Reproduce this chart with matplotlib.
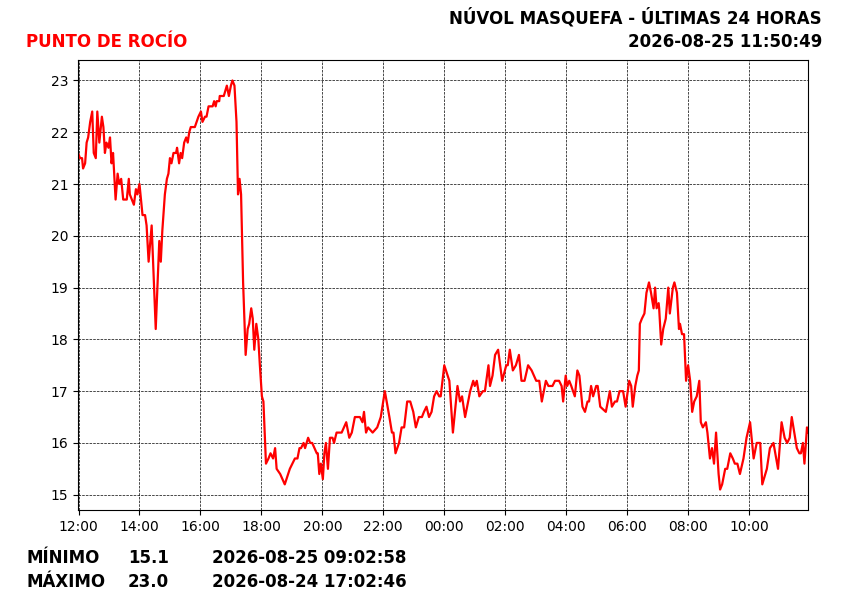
import datetime as dt
import matplotlib
matplotlib.use("Agg")
import matplotlib.pyplot as plt
import matplotlib.dates as mdates

# lecturas punto de rocio (hora, valor) - ultimas 24h
horas = [
    "11:59", "12:03", "12:07", "12:09", "12:13", "12:16", "12:19", "12:23", "12:27", "12:30",
    "12:34", "12:37", "12:41", "12:46", "12:49", "12:52", "12:55", "12:59", "13:02", "13:05",
    "13:08", "13:13", "13:17", "13:20", "13:24", "13:28", "13:35", "13:39", "13:41", "13:45",
    "13:49", "13:53", "13:56", "14:00", "14:03", "14:06", "14:11", "14:14", "14:18", "14:24",
    "14:32", "14:39", "14:42", "14:45", "14:50", "14:54", "14:57", "15:00", "15:03", "15:07",
    "15:12", "15:14", "15:18", "15:21", "15:24", "15:28", "15:32", "15:35", "15:38", "15:41",
    "15:49", "15:56", "16:01", "16:04", "16:09", "16:12", "16:16", "16:24", "16:27", "16:30",
    "16:32", "16:37", "16:38", "16:46", "16:52", "16:56", "17:00", "17:03", "17:07", "17:11",
    "17:14", "17:17", "17:20", "17:24", "17:29", "17:33", "17:36", "17:40", "17:43", "17:46",
    "17:50", "17:54", "17:57", "18:01", "18:04", "18:09", "18:14", "18:18", "18:23", "18:27",
    "18:30", "18:37", "18:46", "18:56", "19:06", "19:11", "19:15", "19:18", "19:23", "19:26",
    "19:32", "19:36", "19:40", "19:49", "19:51", "19:54", "19:57", "20:01", "20:04", "20:07",
    "20:11", "20:15", "20:20", "20:23", "20:28", "20:38", "20:47", "20:53", "20:58", "21:04",
    "21:14", "21:19", "21:22", "21:26", "21:30", "21:39", "21:48", "21:55", "22:03", "22:12",
    "22:17", "22:20", "22:24", "22:31", "22:36", "22:41", "22:47", "22:53", "22:59", "23:04",
    "23:10", "23:16", "23:20", "23:25", "23:30", "23:35", "23:40", "23:45", "23:50", "23:53",
    "00:00", "00:10", "00:17", "00:26", "00:31", "00:35", "00:41", "00:51", "00:57", "01:00",
    "01:04", "01:09", "01:16", "01:20", "01:27", "01:30", "01:35", "01:40", "01:46", "01:54",
    "02:02", "02:05", "02:09", "02:15", "02:21", "02:27", "02:32", "02:38", "02:45", "02:52",
    "03:01", "03:07", "03:12", "03:20", "03:25", "03:33", "03:38", "03:46", "03:51", "03:54",
    "03:59", "04:02", "04:06", "04:10", "04:17", "04:22", "04:26", "04:32", "04:37", "04:42",
    "04:45", "04:49", "04:53", "04:59", "05:02", "05:07", "05:18", "05:26", "05:30", "05:36",
    "05:40", "05:45", "05:52", "05:57", "06:04", "06:08", "06:11", "06:16", "06:20", "06:23",
    "06:25", "06:29", "06:34", "06:38", "06:43", "06:47", "06:52", "06:55", "06:58", "07:02",
    "07:03", "07:07", "07:11", "07:16", "07:21", "07:24", "07:30", "07:33", "07:38", "07:42",
    "07:44", "07:48", "07:52", "07:56", "08:00", "08:04", "08:08", "08:12", "08:17", "08:22",
    "08:25", "08:29", "08:35", "08:38", "08:43", "08:47", "08:51", "08:55", "09:00", "09:03",
    "09:07", "09:13", "09:17", "09:23", "09:28", "09:32", "09:37", "09:42", "09:49", "09:55",
    "10:02", "10:09", "10:15", "10:22", "10:26", "10:35", "10:41", "10:48", "10:57", "11:04",
    "11:10", "11:15", "11:20", "11:24", "11:34", "11:39", "11:42", "11:46", "11:49", "11:54",
    "11:56",
]
valores = [
    21.6, 21.5, 21.5, 21.3, 21.4, 21.8, 21.9, 22.2, 22.4, 21.6,
    21.5, 22.4, 21.8, 22.3, 22.1, 21.6, 21.8, 21.7, 21.9, 21.4,
    21.6, 20.7, 21.2, 21.0, 21.1, 20.7, 20.7, 21.1, 20.8, 20.7,
    20.6, 20.9, 20.8, 21.0, 20.7, 20.4, 20.4, 20.2, 19.5, 20.2,
    18.2, 19.9, 19.5, 20.1, 20.8, 21.1, 21.2, 21.5, 21.4, 21.6,
    21.6, 21.7, 21.4, 21.6, 21.5, 21.8, 21.9, 21.8, 22.0, 22.1,
    22.1, 22.3, 22.4, 22.2, 22.3, 22.3, 22.5, 22.5, 22.6, 22.5,
    22.6, 22.6, 22.7, 22.7, 22.9, 22.7, 22.9, 23.0, 22.9, 22.2,
    20.8, 21.1, 20.8, 19.1, 17.7, 18.2, 18.3, 18.6, 18.4, 17.8,
    18.3, 18.0, 17.5, 16.9, 16.8, 15.6, 15.7, 15.8, 15.7, 15.9,
    15.5, 15.4, 15.2, 15.5, 15.7, 15.7, 15.9, 15.9, 16.0, 15.9,
    16.1, 16.0, 16.0, 15.8, 15.8, 15.4, 15.6, 15.3, 15.8, 16.0,
    15.5, 16.1, 16.1, 16.0, 16.2, 16.2, 16.4, 16.1, 16.2, 16.5,
    16.5, 16.4, 16.6, 16.2, 16.3, 16.2, 16.3, 16.5, 17.0, 16.5,
    16.2, 16.2, 15.8, 16.0, 16.3, 16.3, 16.8, 16.8, 16.6, 16.3,
    16.5, 16.5, 16.6, 16.7, 16.5, 16.6, 16.9, 17.0, 16.9, 16.9,
    17.5, 17.2, 16.2, 17.1, 16.8, 16.9, 16.5, 17.0, 17.2, 17.1,
    17.2, 16.9, 17.0, 17.0, 17.5, 17.1, 17.3, 17.7, 17.8, 17.2,
    17.5, 17.5, 17.8, 17.4, 17.5, 17.7, 17.2, 17.2, 17.5, 17.4,
    17.2, 17.2, 16.8, 17.2, 17.1, 17.1, 17.2, 17.2, 17.1, 16.8,
    17.3, 17.1, 17.2, 17.1, 16.9, 17.4, 17.3, 16.7, 16.6, 16.8,
    16.8, 17.1, 16.9, 17.1, 17.1, 16.7, 16.6, 17.0, 16.7, 16.8,
    16.8, 17.0, 17.0, 16.7, 17.2, 17.1, 16.7, 17.1, 17.3, 17.4,
    18.3, 18.4, 18.5, 18.9, 19.1, 18.9, 18.6, 19.0, 18.6, 18.7,
    18.6, 17.9, 18.2, 18.4, 19.0, 18.5, 19.0, 19.1, 18.9, 18.2,
    18.3, 18.1, 18.1, 17.2, 17.5, 17.2, 16.6, 16.8, 16.9, 17.2,
    16.4, 16.3, 16.4, 16.2, 15.7, 15.9, 15.6, 16.2, 15.4, 15.1,
    15.2, 15.5, 15.5, 15.8, 15.7, 15.6, 15.6, 15.4, 15.7, 16.1,
    16.4, 15.7, 16.0, 16.0, 15.2, 15.5, 15.9, 16.0, 15.5, 16.4,
    16.1, 16.0, 16.1, 16.5, 15.9, 15.8, 15.8, 16.0, 15.6, 16.3,
    16.2,
]

titulo = "PUNTO DE ROCÍO"
estacion = "NÚVOL MASQUEFA - ÚLTIMAS 24 HORAS"
actualizado = "2026-08-25 11:50:49"
minimo = ("MÍNIMO", "15.1", "2026-08-25 09:02:58")
maximo = ("MÁXIMO", "23.0", "2026-08-24 17:02:46")

# pasar horas a datetime, cambiando de dia al pasar medianoche
dia = dt.datetime(2026, 8, 24)
tiempos = []
prev = None
for h in horas:
    hh, mm = map(int, h.split(":"))
    t = dia.replace(hour=hh, minute=mm)
    if prev is not None and t < prev:
        dia = dia + dt.timedelta(days=1)
        t = dia.replace(hour=hh, minute=mm)
    tiempos.append(t)
    prev = t

fig = plt.figure(figsize=(8.5, 6), dpi=100)
ax = fig.add_axes([78 / 850, 90 / 600, 730 / 850, 450 / 600])

ax.plot(tiempos, valores, color="red", lw=1.6)
ax.set_xlim(tiempos[0], tiempos[-1])
ax.grid(True, color="black", linestyle="--", linewidth=0.5)
ax.xaxis.set_major_locator(mdates.HourLocator(byhour=range(0, 24, 2)))
ax.xaxis.set_major_formatter(mdates.DateFormatter("%H:%M"))
ax.tick_params(labelsize=10)

fig.text(26 / 850, 1 - 42 / 600, titulo, color="red", fontsize=12,
         fontweight="bold", va="center", ha="left")
fig.text(822 / 850, 1 - 18 / 600, estacion, color="black", fontsize=12,
         fontweight="bold", va="center", ha="right")
fig.text(822 / 850, 1 - 42 / 600, actualizado, color="black", fontsize=12,
         fontweight="bold", va="center", ha="right")

for fila, y in ((minimo, 558), (maximo, 582)):
    for txt, x in zip(fila, (26, 128, 212)):
        fig.text(x / 850, 1 - y / 600, txt, fontsize=12, fontweight="bold",
                 va="center", ha="left")

fig.savefig("out.png", dpi=100)
